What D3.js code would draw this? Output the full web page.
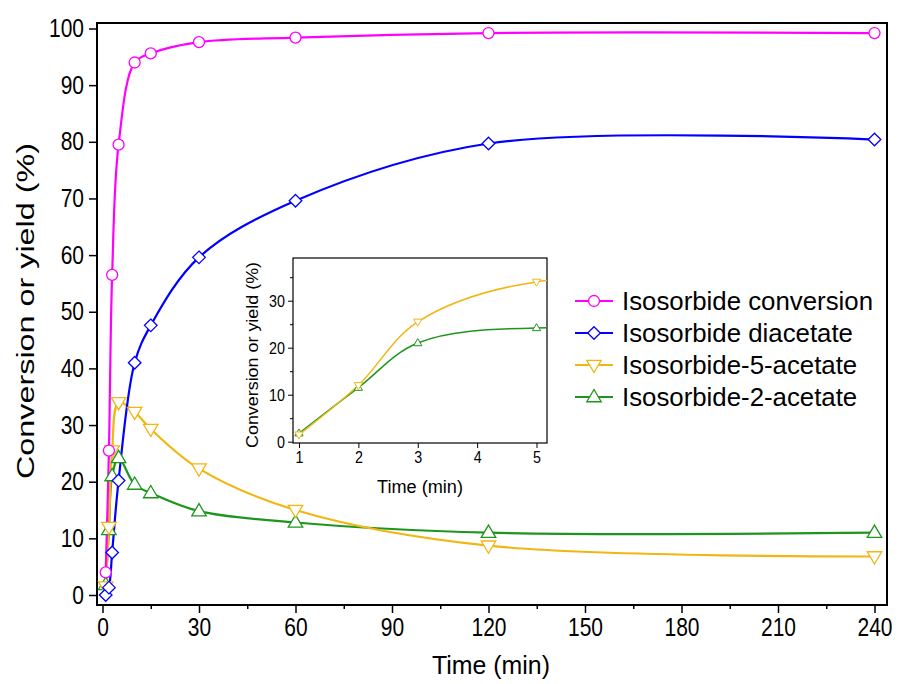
<!DOCTYPE html>
<html>
<head>
<meta charset="utf-8">
<script src="https://cdn.jsdelivr.net/npm/d3@7/dist/d3.min.js"></script>
<style>
  html, body { margin: 0; padding: 0; background: #fff; }
  svg { display: block; }
  text { font-family: "Liberation Sans", Arial, sans-serif; fill: #000; }
</style>
</head>
<body>
<svg id="chart" width="898" height="684"></svg>
<script>
// ---------- data ----------
const times      = [1, 2, 3, 5, 10, 15, 30, 60, 120, 240];
const conversion = [4.0, 25.5, 56.5, 79.5, 94.0, 95.6, 97.6, 98.4, 99.2, 99.2];
const diacetate  = [0.0, 1.3, 7.5, 20.2, 41.0, 47.6, 59.6, 69.6, 79.7, 80.4];
const mono5      = [1.5, 12.0, 25.5, 34.0, 32.3, 29.3, 22.3, 15.0, 8.7, 6.8];
const mono2      = [1.8, 11.5, 21.0, 24.2, 19.5, 18.0, 14.8, 12.8, 11.0, 11.0];
const seriesNames = ["Isosorbide conversion", "Isosorbide diacetate", "Isosorbide-5-acetate", "Isosorbide-2-acetate"];
const xTicks = [0, 30, 60, 90, 120, 150, 180, 210, 240];
const xMinorTicks = [15, 45, 75, 105, 135, 165, 195, 225];
const yTicks = [0, 10, 20, 30, 40, 50, 60, 70, 80, 90, 100];
const insetXTicks = [1, 2, 3, 4, 5];
const insetYTicks = [0, 10, 20, 30];
const insetYMinorTicks = [5, 15, 25, 35];

// ---------- styles ----------
const colors  = ["#ff00ff", "#0000ff", "#f2b612", "#1e961e"];
const shapes  = ["circle", "diamond", "tridown", "triup"];
const values  = [conversion, diacetate, mono5, mono2];
const FONT = "'Liberation Sans', Arial, sans-serif";

const svg = d3.select("#chart");

function markerPath(shape, s) {
  switch (shape) {
    case "circle":
      return `M${s},0A${s},${s} 0 1,1 ${-s},0A${s},${s} 0 1,1 ${s},0Z`;
    case "diamond":
      return `M0,${-s}L${s},0L0,${s}L${-s},0Z`;
    case "tridown": {
      const h = s * 1.15;
      return `M${-h},${-s * 0.75}L${h},${-s * 0.75}L0,${s * 1.2}Z`;
    }
    case "triup": {
      const h = s * 1.15;
      return `M${-h},${s * 0.75}L${h},${s * 0.75}L0,${-s * 1.2}Z`;
    }
  }
}

// squeeze tick label glyphs horizontally (tall, narrow look of the reference)
function squeezeTicks(sel, sx) {
  sel.selectAll(".tick text").each(function () {
    const w = this.getComputedTextLength();
    d3.select(this).attr("textLength", w * sx).attr("lengthAdjust", "spacingAndGlyphs");
  });
}

// ---------- main plot ----------
const frame = { left: 97, right: 887, top: 23, bottom: 605 };
const x = d3.scaleLinear().domain([0, 240]).range([102.5, 874.5]);
const y = d3.scaleLinear().domain([0, 100]).range([595, 28.5]);

const main = svg.append("g");

const xAxis = d3.axisBottom(x).tickValues(xTicks).tickSize(8).tickPadding(5).tickFormat(d3.format("d"));
const gx = main.append("g").attr("transform", `translate(0,${frame.bottom})`).call(xAxis);
gx.select(".domain").remove();
gx.selectAll(".tick line").attr("stroke", "#000").attr("stroke-width", 1.5);
gx.selectAll(".tick text").attr("font-size", 25).attr("font-family", FONT);
squeezeTicks(gx, 0.84);
const gxm = main.append("g").attr("transform", `translate(0,${frame.bottom})`)
  .call(d3.axisBottom(x).tickValues(xMinorTicks).tickSize(4).tickFormat(""));
gxm.select(".domain").remove();
gxm.selectAll(".tick line").attr("stroke", "#000").attr("stroke-width", 1.5);

const yAxis = d3.axisLeft(y).tickValues(yTicks).tickSize(8).tickPadding(5).tickFormat(d3.format("d"));
const gy = main.append("g").attr("transform", `translate(${frame.left},0)`).call(yAxis);
gy.select(".domain").remove();
gy.selectAll(".tick line").attr("stroke", "#000").attr("stroke-width", 1.5);
gy.selectAll(".tick text").attr("font-size", 25).attr("font-family", FONT);
squeezeTicks(gy, 0.84);

main.append("rect")
  .attr("x", frame.left).attr("y", frame.top)
  .attr("width", frame.right - frame.left).attr("height", frame.bottom - frame.top)
  .attr("fill", "none").attr("stroke", "#000").attr("stroke-width", 2);

// axis titles
main.append("text").attr("x", 491).attr("y", 674).attr("text-anchor", "middle")
  .attr("font-size", 26).attr("textLength", 118).attr("lengthAdjust", "spacingAndGlyphs")
  .text("Time (min)");
main.append("text").attr("transform", "translate(34,311) rotate(-90)").attr("text-anchor", "middle")
  .attr("font-size", 23).attr("textLength", 336).attr("lengthAdjust", "spacingAndGlyphs")
  .text("Conversion or yield (%)");

// series
const line = d3.line().x(d => x(d.t)).y(d => y(d.v)).curve(d3.curveCatmullRom.alpha(0.5));
const seriesData = values.map(arr => times.map((t, i) => ({ t: t, v: arr[i] })));

const drawOrder = [3, 2, 1, 0];
drawOrder.forEach(k => {
  main.append("path").datum(seriesData[k])
    .attr("d", line).attr("fill", "none")
    .attr("stroke", colors[k]).attr("stroke-width", 2.2);
});
drawOrder.forEach(k => {
  main.append("g").selectAll("path").data(seriesData[k]).join("path")
    .attr("transform", d => `translate(${x(d.t)},${y(d.v)})`)
    .attr("d", markerPath(shapes[k], shapes[k] === "circle" ? 5.5 : 6.3))
    .attr("fill", "#fff").attr("stroke", colors[k]).attr("stroke-width", 1.3);
});

// ---------- legend ----------
const legend = main.append("g");
const legendY = [301, 333, 365, 397];
let legendScale = null;
seriesNames.forEach((name, k) => {
  const gy0 = legendY[k];
  legend.append("line").attr("x1", 575).attr("x2", 613).attr("y1", gy0).attr("y2", gy0)
    .attr("stroke", colors[k]).attr("stroke-width", 2.2);
  legend.append("path").attr("transform", `translate(594,${gy0})`)
    .attr("d", markerPath(shapes[k], shapes[k] === "circle" ? 5.5 : 6.3))
    .attr("fill", "#fff").attr("stroke", colors[k]).attr("stroke-width", 1.3);
  const t = legend.append("text").attr("x", 622).attr("y", gy0 + 9).attr("font-size", 25).text(name);
  const w = t.node().getComputedTextLength();
  if (legendScale === null) legendScale = 251 / w;
  t.attr("textLength", w * legendScale).attr("lengthAdjust", "spacingAndGlyphs");
});

// ---------- inset ----------
const iframe = { left: 293, right: 547, top: 258, bottom: 443 };
const ix = d3.scaleLinear().domain([1, 5]).range([299, 536.5]);
const iy = d3.scaleLinear().domain([0, 30]).range([441.7, 300.7]);
const inset = svg.append("g");

inset.append("rect")
  .attr("x", iframe.left).attr("y", iframe.top)
  .attr("width", iframe.right - iframe.left).attr("height", iframe.bottom - iframe.top)
  .attr("fill", "#fff").attr("stroke", "none");

svg.append("clipPath").attr("id", "insetClip").append("rect")
  .attr("x", iframe.left).attr("y", iframe.top)
  .attr("width", iframe.right - iframe.left).attr("height", iframe.bottom - iframe.top);

const ixAxis = d3.axisBottom(ix).tickValues(insetXTicks).tickSize(5).tickPadding(3).tickFormat(d3.format("d"));
const gix = inset.append("g").attr("transform", `translate(0,${iframe.bottom})`).call(ixAxis);
gix.select(".domain").remove();
gix.selectAll(".tick line").attr("stroke", "#000").attr("stroke-width", 1);
gix.selectAll(".tick text").attr("font-size", 17).attr("font-family", FONT);
squeezeTicks(gix, 0.84);

const iyAxis = d3.axisLeft(iy).tickValues(insetYTicks).tickSize(5).tickPadding(3).tickFormat(d3.format("d"));
const giy = inset.append("g").attr("transform", `translate(${iframe.left},0)`).call(iyAxis);
giy.select(".domain").remove();
giy.selectAll(".tick line").attr("stroke", "#000").attr("stroke-width", 1);
giy.selectAll(".tick text").attr("font-size", 17).attr("font-family", FONT);
squeezeTicks(giy, 0.84);
const giym = inset.append("g").attr("transform", `translate(${iframe.left},0)`)
  .call(d3.axisLeft(iy).tickValues(insetYMinorTicks).tickSize(3).tickFormat(""));
giym.select(".domain").remove();
giym.selectAll(".tick line").attr("stroke", "#000").attr("stroke-width", 1);

inset.append("rect")
  .attr("x", iframe.left).attr("y", iframe.top)
  .attr("width", iframe.right - iframe.left).attr("height", iframe.bottom - iframe.top)
  .attr("fill", "none").attr("stroke", "#000").attr("stroke-width", 1.2);

inset.append("text").attr("x", 420).attr("y", 493).attr("text-anchor", "middle")
  .attr("font-size", 18).attr("textLength", 86).attr("lengthAdjust", "spacingAndGlyphs")
  .text("Time (min)");
inset.append("text").attr("transform", "translate(258,355) rotate(-90)").attr("text-anchor", "middle")
  .attr("font-size", 16).attr("textLength", 186).attr("lengthAdjust", "spacingAndGlyphs")
  .text("Conversion or yield (%)");

const iline = d3.line().x(d => ix(d.t)).y(d => iy(d.v)).curve(d3.curveCatmullRom.alpha(0.5));
const insetG = inset.append("g").attr("clip-path", "url(#insetClip)");
[3, 2].forEach(k => {
  const pts = seriesData[k].filter(d => d.t <= 10);
  insetG.append("path").datum(pts).attr("d", iline).attr("fill", "none")
    .attr("stroke", colors[k]).attr("stroke-width", 1.5);
});
[3, 2].forEach(k => {
  const pts = seriesData[k].filter(d => d.t <= 5);
  insetG.append("g").selectAll("path").data(pts).join("path")
    .attr("transform", d => `translate(${ix(d.t)},${iy(d.v)})`)
    .attr("d", markerPath(shapes[k], 3.6))
    .attr("fill", "#fff").attr("stroke", colors[k]).attr("stroke-width", 1);
});
</script>
</body>
</html>
